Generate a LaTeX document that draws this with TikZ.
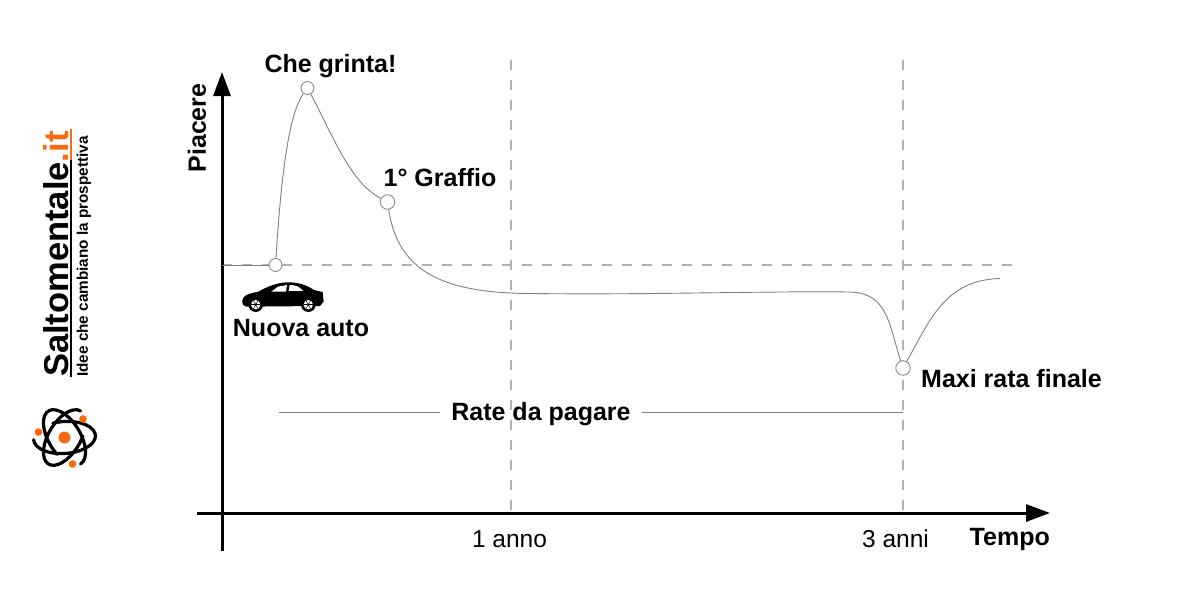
\documentclass[tikz,border=0pt]{standalone}
\usepackage{fontspec}
\setmainfont{Liberation Sans}
\usetikzlibrary{arrows.meta}
\definecolor{logoorange}{HTML}{F96A0E}
\definecolor{guidegray}{HTML}{B2B2B2}
\definecolor{curvegray}{HTML}{808080}
\tikzset{
	axisline/.style={line width=3pt, -{Triangle[width=17pt,length=24pt]}},
	guide/.style={guidegray, line width=2pt, dash pattern=on 10pt off 10pt},
	curveline/.style={curvegray, line width=0.9pt},
	mark point/.style={circle, draw=curvegray, fill=white, line width=0.8pt, inner sep=0pt, minimum size=#1},
	bigtext/.style={font=\bfseries\fontsize{25}{29}\selectfont, inner sep=0pt},
	ticktext/.style={font=\fontsize{24.5}{28}\selectfont, inner sep=0pt}
}
\begin{document}
\begin{tikzpicture}[x=1pt, y=-1pt]
	\useasboundingbox (0,0) rectangle (1200,600);

	% logo
	\begin{scope}[shift={(64.5,437.5)}]
		\foreach \ang/\gapend in {4/250,-59/70,59/70}
			\draw[line width=3.2pt, line cap=round, rotate=\ang] (\gapend:31 and 16) arc[start angle=\gapend, delta angle=290, x radius=31, y radius=16];
		\fill[logoorange] (0,0) circle (6);
		\fill[logoorange] (18.5,-18.5) circle (3.8);
		\fill[logoorange] (-26,-5.5) circle (3.8);
		\fill[logoorange] (8,26.5) circle (3.8);
	\end{scope}
	\node[rotate=90, anchor=south west, inner sep=0pt, font=\bfseries\fontsize{34.5}{40}\selectfont] (logoname) at (69,377) {Saltomentale\textcolor{logoorange}{.it}};
	\node[rotate=90, anchor=west, inner sep=0pt, font=\bfseries\fontsize{15.3}{17}\selectfont] (logotag) at (84,377) {Idee che cambiano la prospettiva};
	\draw[line width=1.5pt] (71,377) -- (71,160);
	\draw[logoorange, line width=1.5pt] (71,160) -- (71,129);

	% guides
	\draw[guide] (222,265) -- (1012,265);
	\draw[guide] (511,60) -- (511,513);
	\draw[guide] (903,60) -- (903,513);

	% axes
	\draw[axisline] (222,551) -- (222,72);
	\draw[axisline] (197,513) -- (1050,513);
	\node[bigtext, rotate=90] (piacere) at (197,128) {Piacere};
	\node[bigtext, anchor=east] (tempo) at (1050,539) {Tempo};
	\node[ticktext] (anno) at (509.5,539) {1 anno};
	\node[ticktext] (anni) at (895.5,539) {3 anni};

	% curve
	\node[mark point=13pt] (start) at (275.5,265) {};
	\node[mark point=13pt] (peak) at (307.5,88) {};
	\node[mark point=14.5pt] (scratch) at (387.5,202) {};
	\node[mark point=14.5pt] (rata) at (903,368) {};
	\coordinate (finish) at (1000,278.5);
	\draw[curveline] (222,265) -- (start);
	\draw[curveline] (start) .. controls (281,180) and (288,115) .. (peak);
	\draw[curveline] (peak) .. controls (333,136) and (350,182) .. (scratch);
	\draw[curveline] (scratch) .. controls (398,270) and (440,293) .. (530,293.5)
		.. controls (650,295) and (760,291) .. (850,292)
		.. controls (888,293) and (889,325) .. (rata);
	\draw[curveline] (rata) .. controls (930,320) and (945,280) .. (finish);

	% labels
	\node[bigtext] (grinta) at (330.5,66.5) {Che grinta!};
	\node[bigtext] (graffio) at (440,178) {1° Graffio};
	\node[bigtext] (nuova) at (301,328) {Nuova auto};
	\node[bigtext] (maxi) at (1011.5,379) {Maxi rata finale};

	% rate
	\node[bigtext, inner xsep=11pt] (rate) at (541,414) {Rate da pagare};
	\coordinate (ratefrom) at (279,412);
	\coordinate (rateto) at (903,412);
	\draw[curvegray, line width=1pt] (ratefrom) -- (ratefrom -| rate.west);
	\draw[curvegray, line width=1pt] (rateto -| rate.east) -- (rateto);

	% car
	\begin{scope}[shift={(210,240)}, x=0.3333pt, y=-0.3333pt]
		\fill (97,182) .. controls (98,168) and (110,162) .. (145,155)
			.. controls (175,138) and (205,127) .. (235,127)
			.. controls (265,127) and (290,135) .. (312,150)
			-- (338,156) -- (341,185) -- (330,198) -- (110,200) .. controls (100,198) and (96,192) .. (97,182) -- cycle;
		\fill[white] (184,155) -- (204,140) -- (231,135) -- (228,155) -- cycle;
		\fill[white] (239,135) .. controls (255,135) and (268,138) .. (279,153) -- (236,153) -- cycle;
		\foreach \wx in {137,295} {
			\fill (\wx,194) circle (22);
			\fill[white] (\wx,194) circle (14);
			\fill (\wx,194) circle (4);
			\foreach \ang in {0,60,...,300}
				\draw[line width=0.5pt] (\wx,194) -- ++(\ang:13);
		}
	\end{scope}
\end{tikzpicture}
\end{document}
